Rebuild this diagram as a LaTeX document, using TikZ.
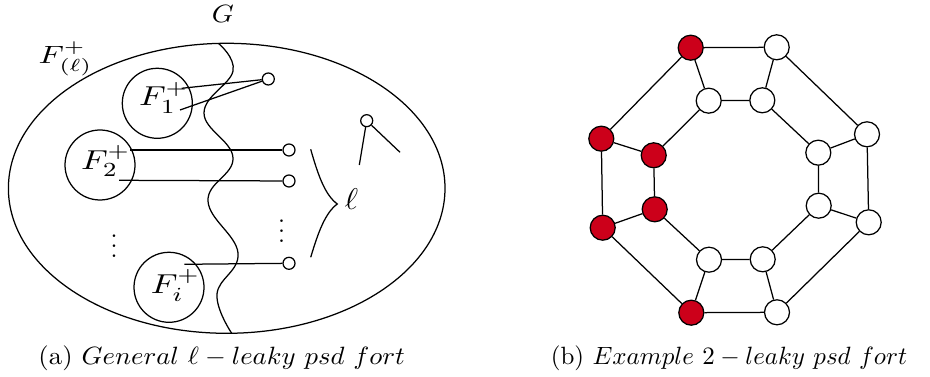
\documentclass[tikz,border=0pt]{standalone}
\usepackage{graphicx}
\definecolor{nodered}{RGB}{204,0,26}
\newcommand{\hstretch}[2]{\scalebox{#1}[1]{#2}}
\begin{document}
\begin{tikzpicture}[x=0.4pt,y=-0.4pt, line width=0.5pt,
  fset/.style={circle,draw,minimum size=28pt,inner sep=0pt},
  flab/.style={anchor=base west,inner sep=0pt,font=\fontsize{11.3}{13}\selectfont},
  vtx/.style={circle,draw,minimum size=4.8pt,inner sep=0pt},
  gv/.style={circle,draw,minimum size=10pt,inner sep=0pt,fill=white},
  rv/.style={gv,fill=nodered},
  gedge/.style={draw=black}
]
\useasboundingbox (0,0) rectangle (930,377);
% ---------- panel (a)
\draw (226.7,188.3) ellipse [x radius=87.32pt, y radius=58pt];
\draw plot[smooth, tension=0.7] coordinates {(218.3,43.3) (233,71) (204,113) (233,158) (208,201) (238,253) (217,294) (231.7,333.3)};
\node[fset] (F1) at (157.3,103.3) {};
\node[fset] (F2) at (100,165) {};
\node[fset] (Fi) at (169,287.3) {};
\node[flab] (lF1) at (138.5,106) {\hstretch{1.25}{$F^+_1$}};
\node[flab] (lF2) at (80.5,169.3) {\hstretch{1.25}{$F^+_2$}};
\node[flab] (lFi) at (150.3,293.3) {\hstretch{1.25}{$F^+_i$}};
\node[vtx] (v1) at (268.3,79) {};
\node[vtx] (v2) at (289,150) {};
\node[vtx] (v3) at (289,181) {};
\node[vtx] (v4) at (289,263.3) {};
\node[vtx] (v5) at (366.7,120.7) {};
\coordinate (a1) at (181.7,88.3);
\coordinate (a2) at (180,110);
\coordinate (b1) at (130,150);
\coordinate (b2) at (119,180.3);
\coordinate (c1) at (184.3,264.3);
\coordinate (e1) at (359.3,165);
\coordinate (e2) at (400,152.3);
\draw (a1) -- (v1);
\draw (a2) -- (v1);
\draw (b1) -- (v2);
\draw (b2) -- (v3);
\draw (c1) -- (v4);
\draw (v5) -- (e1);
\draw (v5) -- (e2);
\coordinate (br1) at (310.7,149.3);
\coordinate (brt) at (337.3,204);
\coordinate (br2) at (310.7,257.3);
\draw (br1) .. controls (318,175) and (325,195) .. (brt) .. controls (325,213) and (318,233) .. (br2);
\node[anchor=base,font=\fontsize{11.5}{13}\selectfont] (ell) at (351.5,209.5) {\hstretch{1.1}{$\ell$}};
\node[anchor=base] (d1) at (114,258) {$\vdots$};
\node[anchor=base] (d2) at (281.7,242.7) {$\vdots$};
\node[anchor=base] (Glab) at (223,22.5) {\hstretch{1.12}{$G$}};
\node[anchor=base west,inner sep=0pt] (Flab) at (38,63.3) {\hstretch{1.3}{$F^+_{(\ell)}$}};
\node[anchor=base] (capa) at (221.7,365) {\hstretch{1.07}{(a) $General\ \ell - leaky\ psd\ fort$}};
% ---------- panel (b)
\node[rv] (o1) at (690.7,47.7) {};
\node[gv] (o2) at (776.7,47.3) {};
\node[gv] (o3) at (867,134.3) {};
\node[gv] (o4) at (868.7,222.3) {};
\node[gv] (o5) at (777,312.3) {};
\node[rv] (o6) at (691.3,312.7) {};
\node[rv] (o7) at (602.7,227.7) {};
\node[rv] (o8) at (601.3,138.7) {};
\node[gv] (i1) at (708.7,100.7) {};
\node[gv] (i2) at (762.3,100.3) {};
\node[gv] (i3) at (818.3,152.7) {};
\node[gv] (i4) at (818.7,205.7) {};
\node[gv] (i5) at (762.7,259.3) {};
\node[gv] (i6) at (709,259.7) {};
\node[rv] (i7) at (654.7,209.3) {};
\node[rv] (i8) at (653.7,155.3) {};
\foreach \a/\b in {o1/o2,o2/o3,o3/o4,o4/o5,o5/o6,o6/o7,o7/o8,o8/o1,
  i1/i2,i2/i3,i3/i4,i4/i5,i5/i6,i6/i7,i7/i8,i8/i1,
  o1/i1,o2/i2,o3/i3,o4/i4,o5/i5,o6/i6,o7/i7,o8/i8}
  \draw[gedge] (\a) -- (\b);
\node[anchor=base] (capb) at (729,365) {(b) $Example\ 2-leaky\ psd\ fort$};
\end{tikzpicture}
\end{document}
